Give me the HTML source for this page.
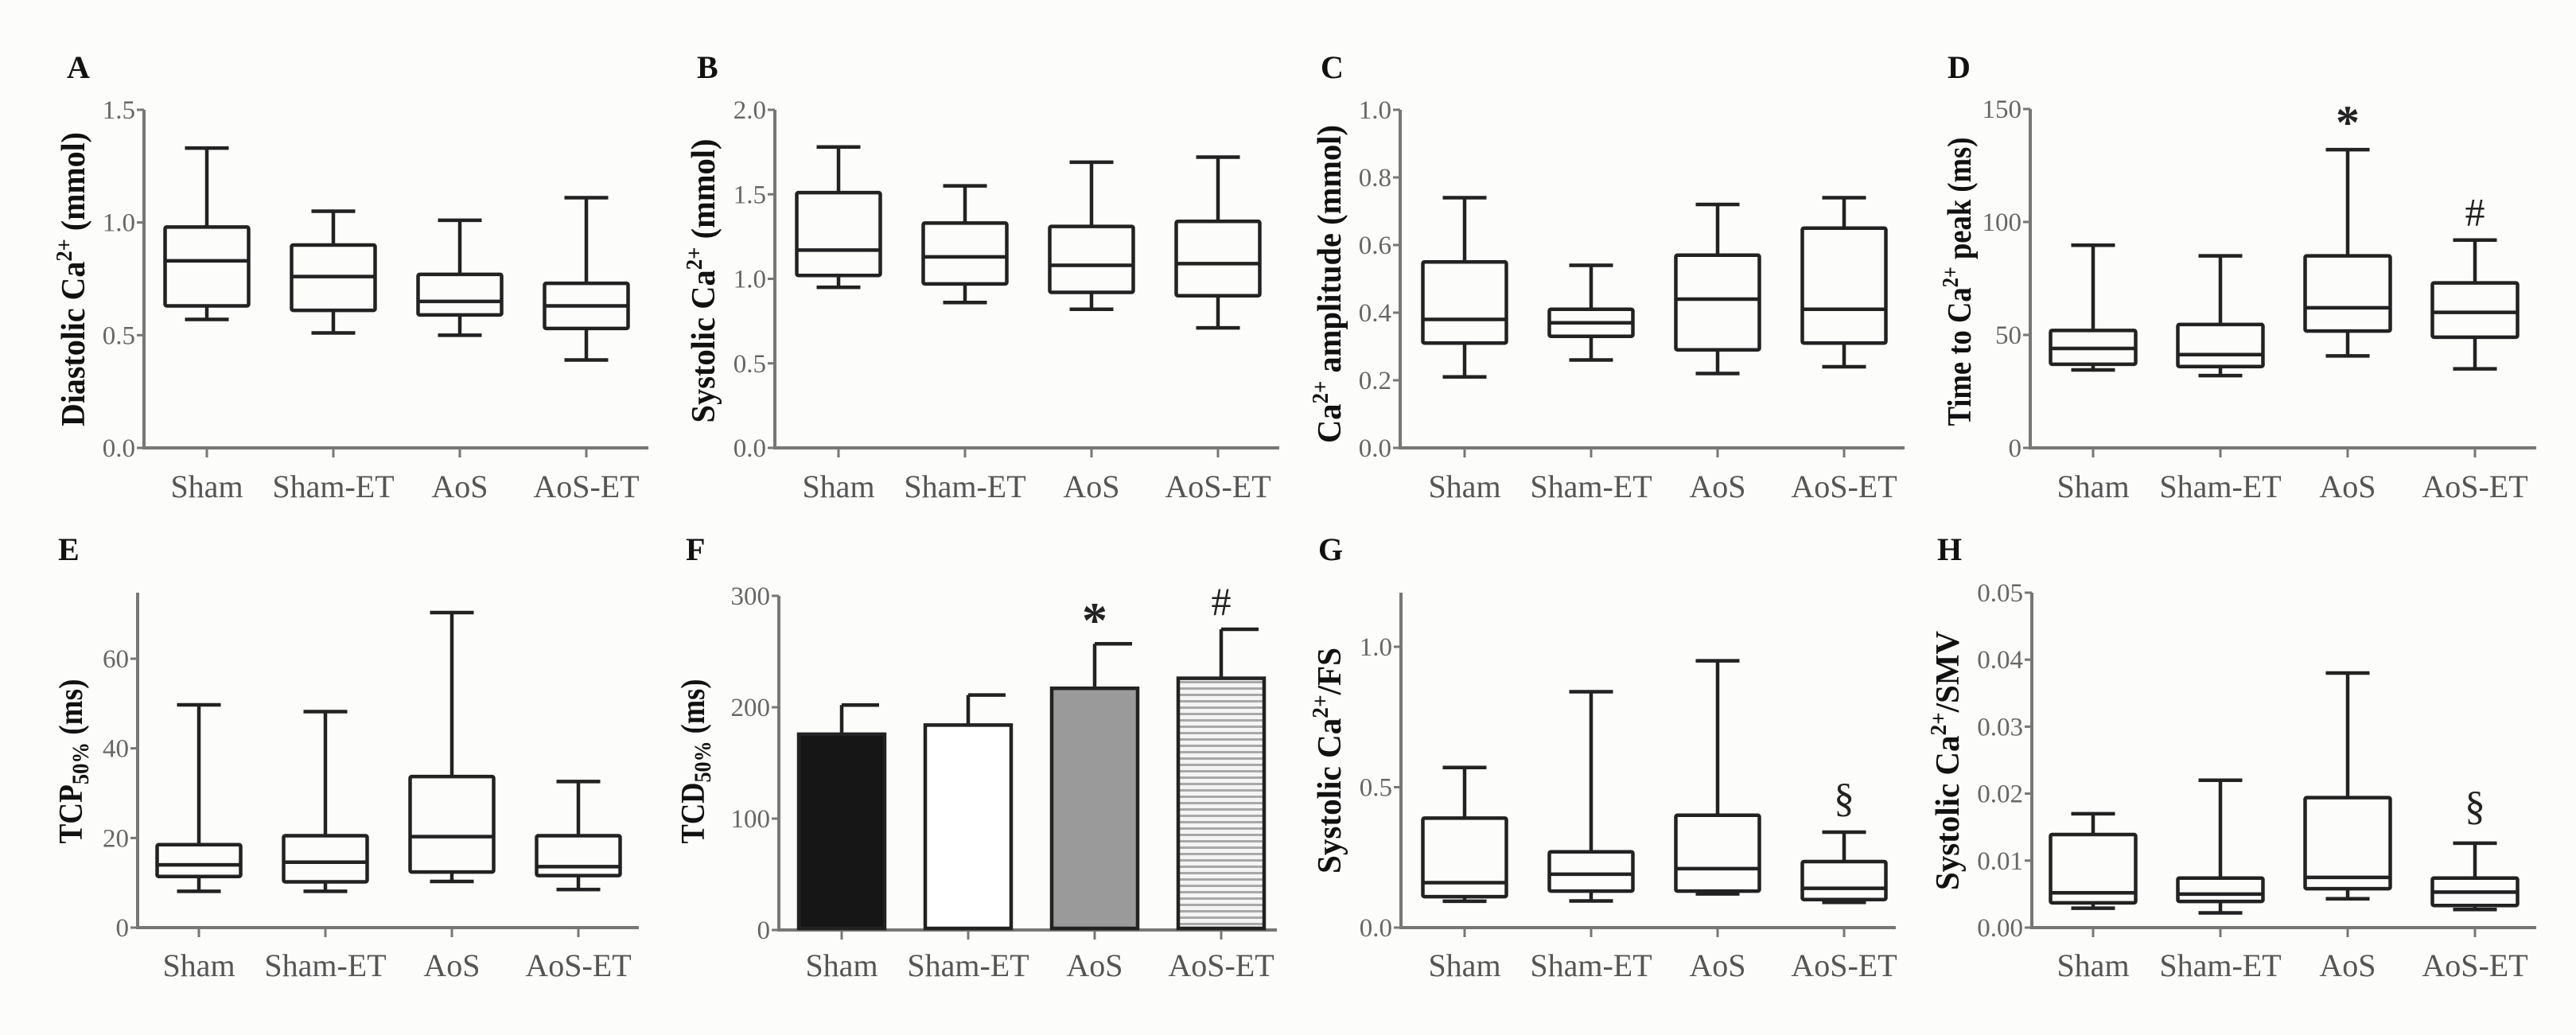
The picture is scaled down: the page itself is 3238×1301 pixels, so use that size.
<!DOCTYPE html>
<html><head><meta charset="utf-8"><style>
html,body{margin:0;padding:0;background:#fcfcfb;}
svg{display:block;}
text{font-family:"Liberation Serif",serif;}
</style></head><body>
<svg id="fig" width="3238" height="1301" viewBox="0 0 3238 1301" xmlns="http://www.w3.org/2000/svg">
<defs>
<pattern id="stripes" patternUnits="userSpaceOnUse" width="8" height="8">
<rect width="8" height="8" fill="#f4f4f4"/>
<rect y="0" width="8" height="3" fill="#a8a8a8"/>
</pattern>
</defs>
<rect width="3238" height="1301" fill="#fcfcfb"/>
</svg>
<script>
const categories = ["Sham","Sham-ET","AoS","AoS-ET"];
// Panel A
const aMin=[0.57,0.51,0.50,0.39], aQ1=[0.63,0.61,0.59,0.53], aMed=[0.83,0.76,0.65,0.63], aQ3=[0.98,0.90,0.77,0.73], aMax=[1.33,1.05,1.01,1.11];
const aTicks=[0.0,0.5,1.0,1.5];
// Panel B
const bMin=[0.95,0.86,0.82,0.71], bQ1=[1.02,0.97,0.92,0.90], bMed=[1.17,1.13,1.08,1.09], bQ3=[1.51,1.33,1.31,1.34], bMax=[1.78,1.55,1.69,1.72];
const bTicks=[0.0,0.5,1.0,1.5,2.0];
// Panel C
const cMin=[0.21,0.26,0.22,0.24], cQ1=[0.31,0.33,0.29,0.31], cMed=[0.38,0.37,0.44,0.41], cQ3=[0.55,0.41,0.57,0.65], cMax=[0.74,0.54,0.72,0.74];
const cTicks=[0.0,0.2,0.4,0.6,0.8,1.0];
// Panel D
const dMin=[34.5,32,40.7,35], dQ1=[37,36,51.7,49], dMed=[44,41.3,62,60], dQ3=[52,54.6,85,73], dMax=[89.7,85,132,92];
const dTicks=[0,50,100,150];
// Panel E
const eMin=[8.1,8.1,10.3,8.5], eQ1=[11.4,10.2,12.4,11.6], eMed=[14,14.6,20.3,13.6], eQ3=[18.5,20.5,33.7,20.5], eMax=[49.7,48.2,70.3,32.6];
const eTicks=[0,20,40,60];
// Panel F (bar + SD)
const fMean=[175.8,184,217,226], fErr=[202,211,257,270];
const fTicks=[0,100,200,300];
// Panel G
const gMin=[0.094,0.095,0.12,0.09], gQ1=[0.11,0.13,0.13,0.10], gMed=[0.16,0.19,0.21,0.14], gQ3=[0.39,0.27,0.40,0.235], gMax=[0.57,0.84,0.95,0.34];
const gTicks=[0.0,0.5,1.0];
// Panel H
const hMin=[0.0029,0.0022,0.0043,0.0027], hQ1=[0.0037,0.0039,0.0058,0.0033], hMed=[0.0052,0.0050,0.0075,0.0053], hQ3=[0.0139,0.0074,0.0194,0.0074], hMax=[0.0170,0.0220,0.0380,0.0126];
const hTicks=[0.00,0.01,0.02,0.03,0.04,0.05];

const NS="http://www.w3.org/2000/svg";
const svg=document.getElementById('fig');
function el(tag,attrs,parent){const e=document.createElementNS(NS,tag);for(const k in attrs)e.setAttribute(k,attrs[k]);(parent||svg).appendChild(e);return e;}

function panel(p){
  const g=el('g',{});
  
  
  const y=v=>p.y0-(v/p.vRef)*(p.y0-p.yRef);
  const x=i=>p.ax+p.off+i*p.step;
  // letter
  const L=el('text',{x:p.lx,y:p.ly,'font-size':40,'font-weight':'bold',fill:'#111'},g);
  L.textContent=p.letter;
  
  
  // y title
  const t=el('text',{transform:`translate(${p.tx},${p.ty}) rotate(-90)`,'text-anchor':'middle','font-size':42,'font-weight':'bold',fill:'#111',textLength:p.tl,lengthAdjust:'spacingAndGlyphs'},g);
  t.innerHTML=p.title;
  
  
  // axes
  const ya=el('line',{x1:p.ax,y1:p.top,x2:p.ax,y2:p.y0+2,stroke:'#777','stroke-width':4},g);
  
  
  const xa=el('line',{x1:p.ax-2,y1:p.y0,x2:p.ax+p.len,y2:p.y0,stroke:'#777','stroke-width':4},g);
  
  
  p.ticks.forEach(v=>{
    el('line',{x1:p.ax-9,y1:y(v),x2:p.ax,y2:y(v),stroke:'#777','stroke-width':3},g);
    const tl=el('text',{x:p.ax-11,y:y(v)+11,'text-anchor':'end','font-size':33,fill:'#666'},g);
    tl.textContent=p.fmt(v);
    
    
  });
  categories.forEach((c,i)=>{
    el('line',{x1:x(i),y1:p.y0,x2:x(i),y2:p.y0+12,stroke:'#777','stroke-width':3},g);
    const cl=el('text',{x:x(i),y:p.ly2,'text-anchor':'middle','font-size':40,fill:'#555'},g);
    cl.textContent=c;
    
    
  });
  const bw=p.bw||105, cw=55, sw=4.5, col='#222';
  if(p.box){
    for(let i=0;i<4;i++){
      const bg=el('g',{},g);
      
      
      const cx=x(i);
      el('line',{x1:cx,y1:y(p.box.max[i]),x2:cx,y2:y(p.box.q3[i]),stroke:col,'stroke-width':sw},bg);
      el('line',{x1:cx,y1:y(p.box.q1[i]),x2:cx,y2:y(p.box.min[i]),stroke:col,'stroke-width':sw},bg);
      el('line',{x1:cx-cw/2,y1:y(p.box.max[i]),x2:cx+cw/2,y2:y(p.box.max[i]),stroke:col,'stroke-width':sw},bg);
      el('line',{x1:cx-cw/2,y1:y(p.box.min[i]),x2:cx+cw/2,y2:y(p.box.min[i]),stroke:col,'stroke-width':sw},bg);
      el('rect',{x:cx-bw/2,y:y(p.box.q3[i]),width:bw,height:y(p.box.q1[i])-y(p.box.q3[i]),fill:'none',stroke:col,'stroke-width':sw,rx:2},bg);
      el('line',{x1:cx-bw/2,y1:y(p.box.med[i]),x2:cx+bw/2,y2:y(p.box.med[i]),stroke:col,'stroke-width':sw},bg);
    }
  }
  if(p.bars){
    const fills=['#161616','#ffffff','#9a9a9a','url(#stripes)'];
    for(let i=0;i<4;i++){
      const bg=el('g',{},g);
      
      
      const cx=x(i), w=108;
      el('line',{x1:cx,y1:y(p.bars.mean[i]),x2:cx,y2:y(p.bars.err[i]),stroke:col,'stroke-width':sw},bg);
      el('line',{x1:cx,y1:y(p.bars.err[i]),x2:cx+47,y2:y(p.bars.err[i]),stroke:col,'stroke-width':sw},bg);
      el('rect',{x:cx-w/2,y:y(p.bars.mean[i]),width:w,height:p.y0-y(p.bars.mean[i])-2,fill:fills[i],stroke:col,'stroke-width':sw},bg);
    }
  }
  (p.marks||[]).forEach(m=>{
    const mt=el('text',{x:x(m.i)+(m.dx||0),y:y(m.v)-m.gap,'text-anchor':'middle','font-size':m.s,fill:'#222','font-weight':m.b?'bold':'normal'},g);
    mt.textContent=m.t;
    
    
  });
}
const sup='<tspan font-size="28" dy="-16">2+</tspan><tspan dy="16">';
const f1=v=>v.toFixed(1), f0=v=>v.toFixed(0), f2=v=>v.toFixed(2);
panel({letter:'A',lx:84,ly:98,tx:106,ty:351,tl:370,title:'Diastolic Ca'+sup+' (mmol)</tspan>',ax:181,y0:563,yRef:138,vRef:1.5,top:138,len:634,off:79,step:159,ly2:625,ticks:aTicks,fmt:f1,box:{min:aMin,q1:aQ1,med:aMed,q3:aQ3,max:aMax}});
panel({letter:'B',lx:876,ly:98,tx:898,ty:353,tl:357,title:'Systolic Ca'+sup+' (mmol)</tspan>',ax:974,y0:563,yRef:138,vRef:2.0,top:138,len:634,off:80,step:159,ly2:625,ticks:bTicks,fmt:f1,box:{min:bMin,q1:bQ1,med:bMed,q3:bQ3,max:bMax}});
panel({letter:'C',lx:1660,ly:98,tx:1685,ty:357,tl:400,title:'Ca'+sup+' amplitude (mmol)</tspan>',ax:1760,y0:563,yRef:138,vRef:1.0,top:138,len:634,off:81,step:159,ly2:625,ticks:cTicks,fmt:f1,box:{min:cMin,q1:cQ1,med:cMed,q3:cQ3,max:cMax}});
panel({letter:'D',lx:2448,ly:98,tx:2477,ty:354,tl:363,title:'Time to Ca'+sup+' peak (ms)</tspan>',ax:2552,y0:563,yRef:137,vRef:150,top:137,len:636,off:79,step:160,ly2:625,ticks:dTicks,fmt:f0,bw:107,box:{min:dMin,q1:dQ1,med:dMed,q3:dQ3,max:dMax},
  marks:[{i:2,v:132,gap:14,t:'*',s:60,b:true},{i:3,v:92,gap:18,t:'#',s:50}]});
panel({letter:'E',lx:73,ly:704,tx:103,ty:957,tl:207,title:'TCP<tspan font-size="30" dy="8">50%</tspan><tspan dy="-8"> (ms)</tspan>',ax:173,y0:1166,yRef:828,vRef:60,top:745,len:630,off:77,step:159,ly2:1227,ticks:eTicks,fmt:f0,box:{min:eMin,q1:eQ1,med:eMed,q3:eQ3,max:eMax}});
panel({letter:'F',lx:862,ly:704,tx:885,ty:957,tl:207,title:'TCD<tspan font-size="30" dy="8">50%</tspan><tspan dy="-8"> (ms)</tspan>',ax:979,y0:1169,yRef:749,vRef:300,top:749,len:626,off:79,step:159,ly2:1227,ticks:fTicks,fmt:f0,bars:{mean:fMean,err:fErr},
  marks:[{i:2,v:257,gap:8,t:'*',s:64,b:true},{i:3,v:270,gap:18,t:'#',s:50}]});
panel({letter:'G',lx:1657,ly:704,tx:1685,ty:956,tl:284,title:'Systolic Ca'+sup+'/FS</tspan>',ax:1761,y0:1166,yRef:813,vRef:1.0,top:745,len:622,off:80,step:159,ly2:1227,ticks:gTicks,fmt:f1,box:{min:gMin,q1:gQ1,med:gMed,q3:gQ3,max:gMax},
  marks:[{i:3,v:0.34,gap:26,t:'§',s:52}]});
panel({letter:'H',lx:2435,ly:704,tx:2462,ty:956,tl:326,title:'Systolic Ca'+sup+'/SMV</tspan>',ax:2554,y0:1166,yRef:745,vRef:0.05,top:745,len:634,off:77,step:160,ly2:1227,ticks:hTicks,fmt:f2,bw:107,box:{min:hMin,q1:hQ1,med:hMed,q3:hQ3,max:hMax},
  marks:[{i:3,v:0.0126,gap:30,t:'§',s:52}]});
</script>
</body></html>
